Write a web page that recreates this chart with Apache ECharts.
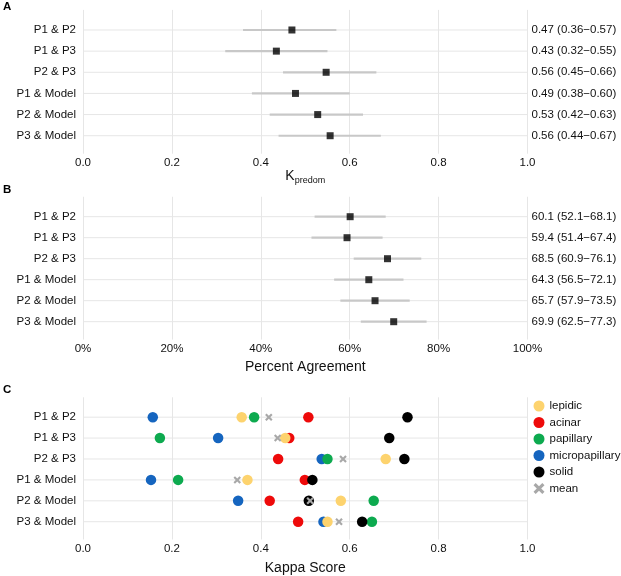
<!DOCTYPE html>
<html><head><meta charset="utf-8">
<script src="https://cdn.jsdelivr.net/npm/echarts@6/dist/echarts.min.js"></script>
<style>html,body{margin:0;padding:0;background:#fff}#c{width:621px;height:576px}</style>
</head><body><div id="c"></div>
<script>
// ---------- data ----------
const pairs = ['P1 & P2', 'P1 & P3', 'P2 & P3', 'P1 & Model', 'P2 & Model', 'P3 & Model'];

// Panel A: kappa (predominant pattern)
const kappaPoint = [0.47, 0.435, 0.547, 0.478, 0.528, 0.556];
const kappaLow   = [0.36, 0.32, 0.45, 0.38, 0.42, 0.44];
const kappaHigh  = [0.57, 0.55, 0.66, 0.60, 0.63, 0.67];
const kappaText  = ['0.47 (0.36\u22120.57)', '0.43 (0.32\u22120.55)', '0.56 (0.45\u22120.66)',
                    '0.49 (0.38\u22120.60)', '0.53 (0.42\u22120.63)', '0.56 (0.44\u22120.67)'];

// Panel B: percent agreement
const agreePoint = [60.1, 59.4, 68.5, 64.3, 65.7, 69.9];
const agreeLow   = [52.1, 51.4, 60.9, 56.5, 57.9, 62.5];
const agreeHigh  = [68.1, 67.4, 76.1, 72.1, 73.5, 77.3];
const agreeText  = ['60.1 (52.1\u221268.1)', '59.4 (51.4\u221267.4)', '68.5 (60.9\u221276.1)',
                    '64.3 (56.5\u221272.1)', '65.7 (57.9\u221273.5)', '69.9 (62.5\u221277.3)'];

// Panel C: kappa per pattern
const lepidic        = [0.357, 0.455, 0.681, 0.370, 0.580, 0.550];
const acinar         = [0.507, 0.464, 0.439, 0.499, 0.420, 0.484];
const papillary      = [0.385, 0.173, 0.550, 0.214, 0.654, 0.650];
const micropapillary = [0.157, 0.304, 0.537, 0.153, 0.349, 0.541];
const solid          = [0.730, 0.689, 0.723, 0.516, 0.508, 0.628];
const meanKappa      = [0.418, 0.438, 0.585, 0.347, 0.511, 0.576];

// ---------- styling ----------
const FONT = "'Liberation Sans', Arial, Helvetica, sans-serif";
const TXT = '#111';
const GRIDC = '#E6E6E6';
const YMIN = -0.95, YMAX = 5.85;

const grids = [
  {left: 83, right: 93.5, top: 9.9, height: 143.8},
  {left: 83, right: 93.5, top: 196.75, height: 142.8},
  {left: 83, right: 93.5, top: 397.3, height: 143.3}
];

function xAxis(gi, max, interval, fmt, name, gap, nameRich) {
  return {
    type: 'value', gridIndex: gi, min: 0, max: max, interval: interval,
    axisLine: {show: false}, axisTick: {show: false},
    axisLabel: {formatter: fmt, fontSize: 11.5, color: TXT, fontFamily: FONT, margin: 3},
    splitLine: {show: true, lineStyle: {color: GRIDC, width: 1}},
    name: name, nameLocation: 'middle', nameGap: gap,
    nameTextStyle: Object.assign({fontSize: 14, color: TXT, fontFamily: FONT}, nameRich ? {rich: nameRich} : {})
  };
}
function yAxis(gi, labels, pos) {
  return {
    type: 'value', gridIndex: gi, min: YMIN, max: YMAX, minInterval: 1, maxInterval: 1,
    inverse: true, position: pos,
    axisLine: {show: false}, axisTick: {show: false}, splitLine: {show: false},
    axisLabel: {
      fontSize: 11.5, color: TXT, fontFamily: FONT, margin: pos === 'left' ? 7 : 4,
      showMinLabel: false, showMaxLabel: false,
      formatter: v => (Math.abs(v - Math.round(v)) < 1e-6 && labels[Math.round(v)] !== undefined) ? labels[Math.round(v)] : ''
    }
  };
}

function rowLines(xi, yi, xmax) {
  return {
    type: 'custom', xAxisIndex: xi, yAxisIndex: yi, silent: true, z: 0,
    data: pairs.map((p, i) => [0, i]),
    encode: {x: 0, y: 1},
    renderItem: (params, api) => {
      const y = api.value(1);
      const a = api.coord([0, y]), b = api.coord([xmax, y]);
      return {type: 'line', shape: {x1: a[0], y1: a[1], x2: b[0], y2: b[1]},
              style: {stroke: GRIDC, lineWidth: 1}};
    }
  };
}
function errBars(xi, yi, lo, hi) {
  return {
    type: 'custom', xAxisIndex: xi, yAxisIndex: yi, silent: true, z: 1,
    data: pairs.map((p, i) => [lo[i], hi[i], i]),
    encode: {x: [0, 1], y: 2},
    renderItem: (params, api) => {
      const a = api.coord([api.value(0), api.value(2)]);
      const b = api.coord([api.value(1), api.value(2)]);
      return {type: 'line', shape: {x1: a[0], y1: a[1], x2: b[0], y2: b[1]},
              style: {stroke: '#C8C8C8', lineWidth: 2.2}};
    }
  };
}
function squares(xi, yi, vals) {
  return {
    type: 'scatter', xAxisIndex: xi, yAxisIndex: yi, z: 3, silent: true,
    symbol: 'rect', symbolSize: 7, itemStyle: {color: '#000'},
    data: vals.map((v, i) => [v, i])
  };
}
function dots(name, vals, color, symbol, size) {
  return {
    name: name, type: 'scatter', xAxisIndex: 2, yAxisIndex: 4, z: 3, silent: true,
    symbol: symbol, symbolSize: size, itemStyle: {color: color, opacity: 1},
    data: vals.map((v, i) => [v, i])
  };
}

const xMark = 'path://M2,0 L5,3 L8,0 L10,2 L7,5 L10,8 L8,10 L5,7 L2,10 L0,8 L3,5 L0,2 Z';

const option = {
  animation: false,
  backgroundColor: '#fff',
  textStyle: {fontFamily: FONT},
  grid: grids,
  xAxis: [
    xAxis(0, 1, 0.2, v => v.toFixed(1), '{k|K}{s|predom}', 14,
          {k: {fontSize: 14, color: TXT, fontFamily: FONT},
           s: {fontSize: 9, color: TXT, fontFamily: FONT, padding: [7, 0, 0, 0]}}),
    xAxis(1, 100, 20, '{value}%', 'Percent Agreement', 21),
    xAxis(2, 1, 0.2, v => v.toFixed(1), 'Kappa Score', 21.5)
  ],
  yAxis: [
    yAxis(0, pairs, 'left'), yAxis(0, kappaText, 'right'),
    yAxis(1, pairs, 'left'), yAxis(1, agreeText, 'right'),
    yAxis(2, pairs, 'left')
  ],
  legend: {
    orient: 'vertical', left: 533.5, top: 400, padding: 0,
    itemWidth: 11, itemHeight: 11, itemGap: 4.5,
    textStyle: {fontSize: 11.5, color: TXT, fontFamily: FONT},
    data: ['lepidic', 'acinar', 'papillary', 'micropapillary', 'solid', 'mean']
  },
  graphic: [
    {type: 'text', left: 3, top: 0.5, style: {text: 'A', font: 'bold 11.5px ' + FONT, fill: '#000'}},
    {type: 'text', left: 3, top: 184, style: {text: 'B', font: 'bold 11.5px ' + FONT, fill: '#000'}},
    {type: 'text', left: 3, top: 383.5, style: {text: 'C', font: 'bold 11.5px ' + FONT, fill: '#000'}}
  ],
  series: [
    rowLines(0, 0, 1), errBars(0, 0, kappaLow, kappaHigh), squares(0, 0, kappaPoint),
    rowLines(1, 2, 100), errBars(1, 2, agreeLow, agreeHigh), squares(1, 2, agreePoint),
    rowLines(2, 4, 1),
    dots('acinar', acinar, '#EE0A0A', 'circle', 10.5),
    dots('micropapillary', micropapillary, '#1565BF', 'circle', 10.5),
    dots('papillary', papillary, '#0DAA4F', 'circle', 10.5),
    dots('lepidic', lepidic, '#FDD36E', 'circle', 10.5),
    dots('solid', solid, '#000000', 'circle', 10.5),
    dots('mean', meanKappa, '#A8A8A8', xMark, 7.5)
  ]
};
const chart = echarts.init(document.getElementById('c'), null, {renderer: 'canvas'});
chart.setOption(option);
</script>
</body></html>
